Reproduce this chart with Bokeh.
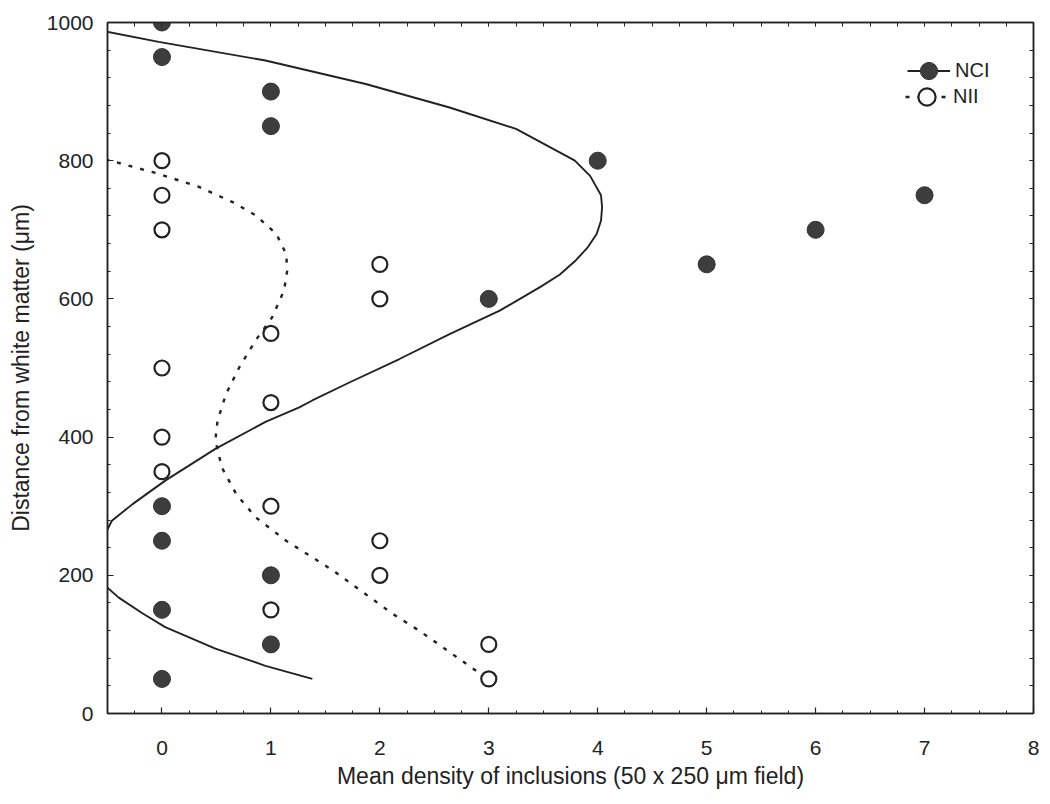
from bokeh.plotting import figure
from bokeh.models import (Range1d, FixedTicker, LinearAxis, Legend, LegendItem)
from bokeh.embed import file_html
from bokeh.resources import INLINE

# ---- data ----
nci_x = [0, 0, 1, 1, 4, 7, 6, 5, 3, 0, 0, 1, 0, 1, 0]
nci_y = [1000, 950, 900, 850, 800, 750, 700, 650, 600, 300, 250, 200, 150, 100, 50]

nii_x = [0, 0, 0, 2, 2, 1, 0, 1, 0, 0, 1, 2, 2, 1, 3, 3]
nii_y = [800, 750, 700, 650, 600, 550, 500, 450, 400, 350, 300, 250, 200, 150, 100, 50]

# fitted curve for NCI
nci_fit_x = [-0.55, -0.03, 0.95, 1.87, 2.64, 3.25, 3.71, 3.79, 3.93, 4.03, 4.04, 4.03,
             3.99, 3.91, 3.80, 3.65, 3.47, 3.10, 2.64, 2.18, 1.72, 1.38, 1.26, 0.95,
             0.49, 0.03, -0.27, -0.46, -0.52, -0.58, -0.52, -0.40, -0.18, 0.03,
             0.49, 0.95, 1.38]
nci_fit_y = [988, 972, 945, 911, 877, 846, 807, 800, 778, 750, 733, 713,
             694, 675, 656, 635, 617, 583, 549, 513, 479, 453, 443, 422,
             383, 337, 303, 279, 260, 222, 185, 168, 145, 125,
             94, 69, 50]

# fitted curve for NII
nii_fit_x = [-0.52, -0.03, 0.34, 0.65, 0.86, 1.05, 1.14, 1.15, 1.12, 1.01, 0.86,
             0.71, 0.59, 0.51, 0.49, 0.55, 0.68, 0.86, 1.14, 1.57, 2.12, 2.36, 2.99]
nii_fit_y = [802, 781, 762, 740, 721, 694, 665, 641, 612, 573, 540,
             501, 463, 424, 395, 356, 318, 284, 250, 207, 144, 120, 50]

x_ticks = [0, 1, 2, 3, 4, 5, 6, 7, 8]
x_minor = [-0.5 + 0.25 * i for i in range(35)]
y_ticks = [0, 200, 400, 600, 800, 1000]
y_minor = [40 * i for i in range(26)]

INK = "#222222"
FONT = "Liberation Sans"

p = figure(width=1050, height=804, output_backend="svg", toolbar_location=None,
           x_range=Range1d(-0.5, 8), y_range=Range1d(0, 1000),
           min_border_left=107, min_border_right=17, min_border_top=22,
           min_border_bottom=91,
           x_axis_label="Mean density of inclusions (50 x 250 \u03bcm field)",
           y_axis_label="Distance from white matter (\u03bcm)")
p.grid.visible = False
p.outline_line_color = INK
p.outline_line_width = 1.5
p.background_fill_color = "white"
p.border_fill_color = "white"


def style_axis(ax, ticks, minor, show_labels=True):
    ax.ticker = FixedTicker(ticks=ticks, minor_ticks=minor)
    ax.major_tick_in = 6
    ax.major_tick_out = 0
    ax.minor_tick_in = 3
    ax.minor_tick_out = 0
    ax.axis_line_color = INK
    ax.axis_line_width = 1.5
    ax.major_tick_line_color = INK
    ax.minor_tick_line_color = INK
    ax.major_tick_line_width = 1.2
    ax.minor_tick_line_width = 1.0
    if show_labels:
        ax.major_label_text_font = FONT
        ax.major_label_text_font_size = "21px"
        ax.major_label_text_color = INK
        ax.axis_label_text_font = FONT
        ax.axis_label_text_font_size = "23px"
        ax.axis_label_text_font_style = "normal"
        ax.axis_label_text_color = INK


xa = p.xaxis[0]
ya = p.yaxis[0]
style_axis(xa, x_ticks, x_minor)
style_axis(ya, y_ticks, y_minor)
xa.major_label_standoff = 27
xa.axis_label_standoff = 5
ya.major_label_standoff = 14
ya.axis_label_standoff = 10

# mirrored tick marks on the top and right edges (no labels)
top_ax = LinearAxis()
right_ax = LinearAxis()
style_axis(top_ax, [], x_minor + x_ticks, show_labels=False)
style_axis(right_ax, [], y_minor + y_ticks, show_labels=False)
top_ax.minor_tick_in = 4
right_ax.minor_tick_in = 4
p.add_layout(top_ax, "above")
p.add_layout(right_ax, "right")

# curves
l_nci = p.line(nci_fit_x, nci_fit_y, line_color=INK, line_width=1.9)
l_nii = p.line(nii_fit_x, nii_fit_y, line_color=INK, line_width=2.4, line_dash="4 8")

# points
s_nci = p.scatter(nci_x, nci_y, size=17, marker="circle", fill_color="#3d3d3d",
                  line_color="#333333", line_width=1)
s_nii = p.scatter(nii_x, nii_y, size=15, marker="circle", fill_color="white",
                  line_color=INK, line_width=2.2)


def make_legend(label, renderers, loc):
    lg = Legend(items=[LegendItem(label=label, renderers=renderers)], location=loc)
    lg.border_line_color = None
    lg.background_fill_alpha = 0
    lg.padding = 0
    lg.margin = 0
    lg.spacing = 0
    lg.glyph_width = 43
    lg.glyph_height = 43
    lg.label_height = 20
    lg.label_standoff = 5
    lg.label_text_font = FONT
    lg.label_text_font_size = "20px"
    lg.label_text_color = INK
    return lg


p.add_layout(make_legend("NCI", [l_nci, s_nci], (800, 621)), "center")
p.add_layout(make_legend("NII", [l_nii, s_nii], (798, 595)), "center")

open("out.html", "w").write(file_html(p, INLINE))
